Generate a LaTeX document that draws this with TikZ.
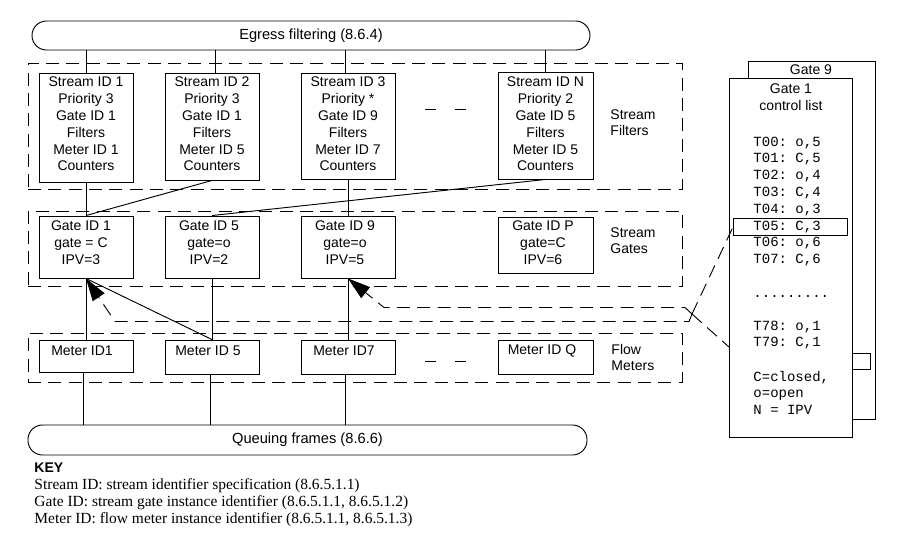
\documentclass[tikz,border=0pt]{standalone}
\usepackage{fontspec}
\setmainfont{Liberation Serif}
\setsansfont{Liberation Sans}
\setmonofont{Liberation Mono}
\usetikzlibrary{arrows.meta}
\begin{document}
\begin{tikzpicture}[x=0.75pt,y=-0.75pt,
  line width=0.7pt,
  box/.style 2 args={draw, minimum width=#1*0.75pt, minimum height=#2*0.75pt, inner sep=0pt},
  dashbox/.style 2 args={draw, dash pattern=on 9.75pt off 5.5pt, minimum width=#1*0.75pt, minimum height=#2*0.75pt, inner sep=0pt},
  pill/.style 2 args={draw, rounded corners=10.9pt, minimum width=#1*0.75pt, minimum height=#2*0.75pt, inner sep=0pt, font=\sffamily\fontsize{11}{13}\selectfont},
  btxt/.style={align=center, inner sep=0pt, font=\sffamily\fontsize{10.5}{12.6}\selectfont},
  ltxt/.style={align=left, anchor=west, inner sep=0pt, font=\sffamily\fontsize{10.5}{12}\selectfont},
  mono/.style={anchor=west, inner sep=0pt, font=\ttfamily\fontsize{10.5}{12.5}\selectfont},
  keytxt/.style={anchor=west, inner sep=0pt, font=\rmfamily\fontsize{11.6}{13}\selectfont},
  dline/.style={dash pattern=on 9.75pt off 5.5pt},
  arr/.style={-{Triangle[length=17pt,width=10.5pt]}}
]
\useasboundingbox (0,0) rectangle (908,546);

% group regions
\node[dashbox={654}{126}] (rsf) at (355,126) {};
\node[dashbox={654}{75}] (rsg) at (355,248.5) {};
\node[dashbox={654}{49}] (rfm) at (355,357.5) {};

% pills
\node[pill={558}{29}] (egress) at (311,35.5) {Egress filtering (8.6.4)};
\node[pill={559}{30}] (queue) at (307.5,440) {Queuing frames (8.6.6)};

% stream filters
\node[box={94}{109}, fill=white] (sf1) at (86,127.5) {};
\node[box={94}{107}, fill=white] (sf2) at (212,126.5) {};
\node[box={94}{106}, fill=white] (sf3) at (348,126) {};
\node[box={95}{107}, fill=white] (sfn) at (545.5,125.5) {};
\node[btxt] (sf1t) at (86,124) {Stream ID 1\\Priority 3\\Gate ID 1\\Filters\\Meter ID 1\\Counters};
\node[btxt] (sf2t) at (212,124) {Stream ID 2\\Priority 3\\Gate ID 1\\Filters\\Meter ID 5\\Counters};
\node[btxt] (sf3t) at (348,124) {Stream ID 3\\Priority *\\Gate ID 9\\Filters\\Meter ID 7\\Counters};
\node[btxt] (sfnt) at (545.5,124) {Stream ID N\\Priority 2\\Gate ID 5\\Filters\\Meter ID 5\\Counters};

% stream gates
\node[box={94}{62}] (g1) at (86,247) {};
\node[box={94}{62}] (g5) at (212,247) {};
\node[box={94}{62}] (g9) at (348,247) {};
\node[box={95}{56}] (gp) at (545.5,245) {};
\node[btxt] (g1t) at (81,242.5) {Gate ID 1\\gate = C\\IPV=3};
\node[btxt] (g5t) at (209,242.5) {Gate ID 5\\gate=o\\IPV=2};
\node[btxt] (g9t) at (345,242.5) {Gate ID 9\\gate=o\\IPV=5};
\node[btxt] (gpt) at (543,242.5) {Gate ID P\\gate=C\\IPV=6};

% flow meters
\node[box={94}{32}] (m1) at (86,356) {};
\node[box={94}{34}] (m5) at (212,357) {};
\node[box={94}{34}] (m7) at (348,357) {};
\node[box={95}{34}] (mq) at (545.5,357) {};
\node[btxt] (m1t) at (82,351) {Meter ID1};
\node[btxt] (m5t) at (208,351) {Meter ID 5};
\node[btxt] (m7t) at (344,351) {Meter ID7};
\node[btxt] (mqt) at (542,351) {Meter ID Q};

% region labels
\node[ltxt] (lsf) at (610,123) {Stream\\Filters};
\node[ltxt] (lsg) at (610,241) {Stream\\Gates};
\node[ltxt] (lfm) at (611,357.5) {Flow\\Meters};

% ellipsis dashes
\draw (425,109) -- (436,109);
\draw (455,109) -- (466,109);
\draw (425,361) -- (436,361);
\draw (455,361) -- (466,361);

% connectors egress -> filters
\draw (egress.south -| sf1.north) -- (sf1.north);
\draw ([xshift=2.25pt]egress.south -| sf2.north) -- ([xshift=2.25pt]sf2.north);
\draw ([xshift=-2.25pt]egress.south -| sf3.north) -- ([xshift=-2.25pt]sf3.north);
\draw (egress.south -| sfn.north) -- (sfn.north);

% filters -> gates
\draw (sf1.south) -- (g1.north);
\draw (sf2.south) -- (g1.north);
\draw (sf3.south) -- (g9.north);
\draw (sfn.south) -- (g5.north);

% gates -> meters
\draw (g1.south) -- (m1.north);
\draw (g5.south) -- (m5.north);
\draw (g9.south) -- (m7.north);
\draw (m5.north) -- (g1.south);

% meters -> queuing
\draw ([xshift=-2.25pt]m1.south) -- ([xshift=-2.25pt]m1.south |- queue.north);
\draw ([xshift=-1.5pt]m5.south) -- ([xshift=-1.5pt]m5.south |- queue.north);
\draw ([xshift=-2.25pt]m7.south) -- ([xshift=-2.25pt]m7.south |- queue.north);

% gate control list
\node[box={127}{358}, anchor=north west] (gl9) at (748,61) {};
\node[box={123}{359}, anchor=north west, fill=white] (gl1) at (729,78) {};
\node[box={18}{16}, anchor=north west] (gsm) at (852,353) {};
\node[inner sep=0pt, font=\sffamily\fontsize{10.5}{12}\selectfont] (gl9t) at (811,70) {Gate 9};
\node[inner sep=0pt, align=center, font=\sffamily\fontsize{10.5}{12.6}\selectfont] (gl1t) at (791,97.5) {Gate 1\\control list};
\node[box={114}{17}, anchor=north west] (t05) at (733,218) {};
\foreach \yy/\tt in {143/{T00: o,5},159/{T01: C,5},176/{T02: o,4},193/{T03: C,4},210/{T04: o,3},227/{T05: C,3},243/{T06: o,6},260/{T07: C,6},296/{.........},327/{T78: o,1},343/{T79: C,1},378/{C=closed,},395/{o=open},410/{N = IPV}}
  \node[mono] (tl\yy) at (753,\yy) {\tt};

% dashed gate-control connectors
\coordinate (jv) at (692,314);
\coordinate (jb) at (729,347);
\draw[dline, arr] (jv) -- (685,307.5) -- (384,307.5) -- (g9.south);
\draw[dline, arr] (jv) -- (689,321.5) -- (115,321.5) -- (g1.south);
\draw[dline] (jv) -- (t05.west);
\draw[dline] (jv) -- (jb);

% key
\node[anchor=west, inner sep=0pt, font=\sffamily\bfseries\fontsize{10.5}{12}\selectfont] (key) at (34,468) {KEY};
\node[keytxt] (k1) at (34,486) {Stream ID: stream identifier specification (8.6.5.1.1)};
\node[keytxt] (k2) at (34,503) {Gate ID: stream gate instance identifier (8.6.5.1.1, 8.6.5.1.2)};
\node[keytxt] (k3) at (34,519.5) {Meter ID: flow meter instance identifier (8.6.5.1.1, 8.6.5.1.3)};
\end{tikzpicture}
\end{document}
